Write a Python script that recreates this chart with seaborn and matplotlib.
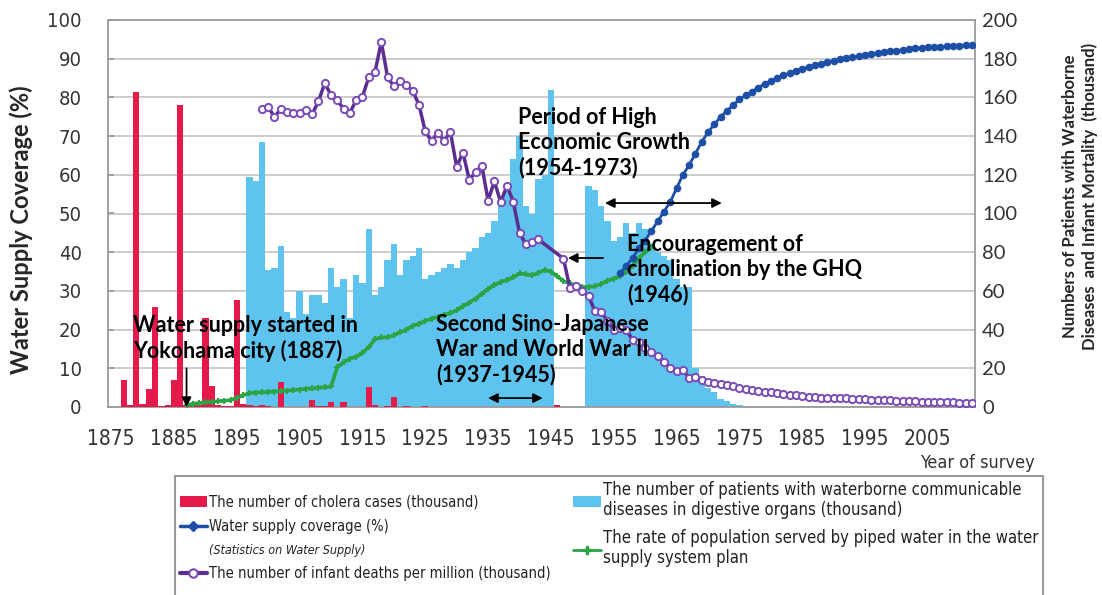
import matplotlib
matplotlib.use("Agg")
import matplotlib.pyplot as plt
import seaborn as sns
import numpy as np
import pandas as pd
from matplotlib import font_manager
from matplotlib.lines import Line2D
from matplotlib.patches import Patch

sns.set_theme(style="white")
avail = {f.name for f in font_manager.fontManager.ttflist}
NARROW = "Liberation Sans Narrow" if "Liberation Sans Narrow" in avail else "DejaVu Sans"
NSTRETCH = "normal" if NARROW == "Liberation Sans Narrow" else "condensed"
BOLD = "Lato" if "Lato" in avail else "DejaVu Sans"
plt.rcParams["font.family"] = [NARROW, "DejaVu Sans"]

# ---------------- data ----------------
cholera_years = [1877, 1878, 1879, 1880, 1881, 1882, 1883, 1884, 1885, 1886, 1887, 1888,
                 1889, 1890, 1891, 1892, 1893, 1894, 1895, 1896, 1897, 1898, 1899, 1900,
                 1901, 1902, 1903, 1907, 1908, 1909, 1910, 1912, 1916, 1917, 1919, 1920,
                 1922, 1925, 1946]
cholera_cases = [13.8, 0.9, 162.6, 1.6, 9.4, 51.6, 0.7, 0.9, 13.8, 155.9, 1.2, 0.8,
                 0.8, 46.0, 11.1, 0.9, 0.6, 0.5, 55.1, 1.5, 0.9, 0.7, 0.8, 0.4,
                 0.1, 12.9, 0.2, 3.6, 0.7, 0.3, 2.8, 2.6, 10.4, 0.9, 0.4, 5.0,
                 0.7, 0.6, 1.2]

waterborne_years = list(range(1897, 1946)) + list(range(1951, 1976))
waterborne_patients = [119, 117, 137, 71, 72, 83, 49, 46, 60, 48,
                       58, 58, 54, 72, 62, 66, 46, 68, 64, 92,
                       58, 62, 76, 84, 68, 76, 78, 82, 66, 68,
                       70, 72, 74, 72, 76, 80, 82, 88, 90, 96,
                       104, 114, 128, 140, 104, 100, 118, 120, 164,
                       114, 112, 104, 96, 86, 88, 95, 90, 95, 92,
                       84, 80, 78, 76, 66, 62, 62, 20, 16, 10,
                       8, 4, 3, 1.5, 0.8]

infant_years = list(range(1899, 1944)) + list(range(1947, 2013))
infant_deaths = [153.8, 155.0, 149.9, 154.0, 152.4, 151.9, 151.7, 153.6, 151.3, 158.0,
                 167.3, 161.2, 158.4, 154.2, 152.1, 158.5, 160.4, 170.3, 173.2, 188.6,
                 170.5, 165.7, 168.3, 166.4, 163.4, 156.2, 142.4, 137.5, 141.7, 137.6,
                 142.1, 124.1, 131.5, 117.5, 121.3, 124.8, 106.7, 116.7, 105.8, 114.4,
                 106.2, 90.0, 84.1, 85.5, 86.6,
                 76.7, 61.7, 62.5, 60.1, 57.5, 49.4, 48.9, 44.6, 39.8, 40.6,
                 40.0, 34.5, 33.7, 30.7, 28.6, 26.4, 23.2, 20.4, 18.5, 19.3,
                 14.9, 15.3, 14.2, 13.1, 12.4, 11.7, 11.3, 10.8, 10.0, 9.3,
                 8.9, 8.4, 7.9, 7.5, 7.1, 6.6, 6.2, 6.0, 5.5, 5.2,
                 5.0, 4.8, 4.6, 4.6, 4.4, 4.5, 4.3, 4.2, 4.3, 3.8,
                 3.7, 3.6, 3.4, 3.2, 3.1, 3.0, 3.0, 2.8, 2.8, 2.6,
                 2.6, 2.6, 2.4, 2.3, 2.3, 2.2]

coverage_years = list(range(1956, 2013))
coverage_pct = [34.5, 36.5, 38.5, 41.0, 43.0, 45.5, 48.0, 50.5, 53.0, 56.5,
                60.0, 62.5, 65.5, 68.5, 71.0, 73.0, 75.0, 76.5, 78.0, 79.5,
                80.5, 81.5, 82.5, 83.5, 84.3, 85.0, 85.7, 86.3, 86.9, 87.4,
                87.9, 88.3, 88.7, 89.1, 89.5, 89.8, 90.1, 90.4, 90.7, 91.0,
                91.3, 91.5, 91.7, 91.9, 92.1, 92.3, 92.5, 92.7, 92.8, 92.9,
                93.0, 93.1, 93.2, 93.3, 93.4, 93.5, 93.6]

plan_years = list(range(1887, 1962))
plan_pct = [0.5, 0.8, 1.0, 1.2, 1.3, 1.5, 1.6, 1.8, 2.3, 3.0,
            3.6, 3.7, 3.8, 3.9, 4.0, 4.1, 4.2, 4.4, 4.5, 4.7,
            4.8, 5.0, 5.1, 5.3, 10.3, 11.5, 12.5, 13.0, 14.0, 15.5,
            17.5, 18.0, 18.0, 18.5, 19.3, 20.0, 21.0, 21.5, 22.3, 22.8,
            23.3, 23.8, 24.3, 25.0, 26.0, 27.0, 28.0, 29.3, 30.5, 31.5,
            32.3, 32.8, 33.5, 34.5, 34.3, 34.0, 34.7, 35.4, 35.0, 33.8,
            32.5, 32.0, 31.3, 31.0, 31.0, 31.2, 31.8, 32.6, 33.2, 33.8,
            35.0, 36.5, 38.5, 40.0, 41.3]

x_ticks = list(range(1875, 2006, 10))
left_ticks = list(range(0, 101, 10))
right_ticks = list(range(0, 201, 20))

# ---------------- colours ----------------
RED = "#e6194b"
LBLUE = "#5ec3ee"
BLUE = "#1d4fa6"
GREEN = "#2ca444"
PURPLE = "#5a2d8e"
PURPLE_EDGE = "#7a4cb5"
GRID = "#c4c4c4"
FRAME = "#9a9a9a"
TICKC = "#333333"

fig = plt.figure(figsize=(11.02, 5.95), dpi=100)
fig.patch.set_facecolor("white")
ax = fig.add_axes([108 / 1102, 1 - 407 / 595, 867 / 1102, 387 / 595])

# bars (thousand units)
sns.barplot(x=waterborne_years, y=waterborne_patients, native_scale=True, width=1.0,
            color=LBLUE, saturation=1, errorbar=None, linewidth=0, ax=ax, zorder=2)
sns.barplot(x=cholera_years, y=cholera_cases, native_scale=True, width=1.0,
            color=RED, saturation=1, errorbar=None, linewidth=0, ax=ax, zorder=3)

ax2 = ax.twinx()   # percent axis (left)
ax3 = ax.twinx()   # infant mortality (thousand), drawn on top

sns.lineplot(x=plan_years, y=plan_pct, color=GREEN, lw=2.7, marker="P", markersize=5,
             markeredgewidth=0, ax=ax2, zorder=4)
sns.lineplot(x=coverage_years, y=coverage_pct, color=BLUE, lw=2, marker="o", markersize=5.5,
             markeredgewidth=0, ax=ax2, zorder=5)
sns.lineplot(x=infant_years, y=infant_deaths, color=PURPLE, lw=2.5, marker="o",
             markersize=5.2, markerfacecolor="white", markeredgecolor=PURPLE_EDGE,
             markeredgewidth=1.4, ax=ax3, zorder=6)

for a in (ax, ax2, ax3):
    a.set_xlim(1874.5, 2012.5)
ax.set_ylim(0, 200)
ax3.set_ylim(0, 200)
ax2.set_ylim(0, 100)

# thousand axis on the right
ax.yaxis.tick_right()
ax.set_yticks(right_ticks)
ax.grid(axis="y", color=GRID, lw=1.2)
ax.set_axisbelow(True)
ax.set_xticks(x_ticks)
ax.set_xticks(list(range(1880, 2011, 10)), minor=True)
ax.tick_params(axis="x", which="both", direction="in", length=4, color=FRAME,
               labelsize=15, labelcolor=TICKC, pad=16)
ax.tick_params(axis="y", which="both", length=0, labelsize=14.5, labelcolor=TICKC, pad=5,
               left=False, labelleft=False, right=False, labelright=True)
for lab in ax.get_xticklabels():
    lab.set_fontstretch(NSTRETCH)
for lab in ax.get_yticklabels():
    lab.set_fontfamily(BOLD)
ax.set_xlabel("")
ax.set_ylabel("")
for sp in ax.spines.values():
    sp.set_color(FRAME)
    sp.set_linewidth(1.3)

# percent axis on the left
ax2.yaxis.tick_left()
ax2.set_yticks(left_ticks)
ax2.tick_params(axis="y", direction="in", length=4, color=FRAME, labelsize=14.5,
                labelcolor=TICKC, pad=19, left=True, labelleft=True, right=False,
                labelright=False)
for lab in ax2.get_yticklabels():
    lab.set_fontstretch(NSTRETCH)
ax2.set_ylabel("")
for sp in ax2.spines.values():
    sp.set_visible(False)

ax3.set_yticks([])
ax3.set_ylabel("")
ax3.tick_params(axis="both", which="both", left=False, right=False, labelleft=False,
                labelright=False)
for sp in ax3.spines.values():
    sp.set_visible(False)

# axis titles
fig.text(21 / 1102, 1 - 230 / 595, "Water Supply Coverage (%)", rotation=90,
         ha="center", va="center", fontsize=17, fontweight="bold", family=BOLD)
fig.text(1080 / 1102, 1 - 196 / 595,
         "Numbers of Patients with Waterborne\nDiseases  and Infant Mortality  (thousand)",
         rotation=90, ha="center", va="center", multialignment="center",
         fontsize=12, fontweight="bold", family=BOLD, linespacing=1.3)
fig.text(1035 / 1102, 1 - 463 / 595, "Year of survey", ha="right", va="center",
         fontsize=13, color=TICKC, fontstretch=NSTRETCH)

# ---------------- annotations ----------------
afont = dict(fontsize=15.5, fontweight="bold", family=BOLD, color="black", linespacing=1.22)
ax3.text(1878.5, 35.4, "Water supply started in\nYokohama city (1887)", ha="left", va="center", zorder=10, **afont)
ax3.text(1926.7, 29.4, "Second Sino-Japanese\nWar and World War II\n(1937-1945)", ha="left", va="center", zorder=10, **afont)
ax3.text(1939.8, 136.4, "Period of High\nEconomic Growth\n(1954-1973)", ha="left", va="center", zorder=10, **afont)
ax3.text(1957.1, 70.8, "Encouragement of\nchrolination by the GHQ\n(1946)", ha="left", va="center", zorder=10, **afont)

arr = dict(color="black", lw=1.3, shrinkA=0, shrinkB=0, mutation_scale=14)
ax3.annotate("", xy=(1887, 0), xytext=(1887, 20), arrowprops=dict(arrowstyle="-|>", **arr), zorder=10)
ax3.annotate("", xy=(1935.0, 4.6), xytext=(1943.7, 4.6), arrowprops=dict(arrowstyle="<|-|>", **arr), zorder=10)
ax3.annotate("", xy=(1953.6, 105.4), xytext=(1972.2, 105.4), arrowprops=dict(arrowstyle="<|-|>", **arr), zorder=10)
ax3.annotate("", xy=(1947.7, 77.0), xytext=(1953.3, 77.0), arrowprops=dict(arrowstyle="-|>", **arr), zorder=10)

# ---------------- legend ----------------
blank = Line2D([], [], alpha=0)
handles = [
    Patch(facecolor=RED, edgecolor="none"),
    Line2D([0], [0], color=BLUE, lw=2.5, marker="D", markersize=5),
    blank,
    Line2D([0], [0], color=PURPLE, lw=3, marker="o", markersize=6, markerfacecolor="white",
           markeredgecolor=PURPLE_EDGE, markeredgewidth=1.5),
    Patch(facecolor=LBLUE, edgecolor="none"),
    Line2D([0], [0], color=GREEN, lw=2, marker="P", markersize=6),
    blank, blank,
]
labels = [
    "The number of cholera cases (thousand)",
    "Water supply coverage (%)",
    "(Statistics on Water Supply)",
    "The number of infant deaths per million (thousand)",
    "The number of patients with waterborne communicable\ndiseases in digestive organs (thousand)",
    "The rate of population served by piped water in the water\nsupply system plan",
    "", "",
]
leg = fig.legend(handles, labels, ncol=2, loc="upper left",
                 bbox_to_anchor=(175 / 1102, 1 - 476 / 595, 868 / 1102, 0.0), mode="expand",
                 borderaxespad=0, frameon=True, fancybox=False, edgecolor=FRAME, framealpha=1,
                 fontsize=11, handlelength=1.8, handletextpad=0.15, labelspacing=0.6,
                 borderpad=0.3, columnspacing=1.0)
leg.get_frame().set_linewidth(1.5)
for i, t in enumerate(leg.get_texts()):
    t.set_fontstretch(NSTRETCH)
    t.set_color("#222222")
    t.set_fontsize(10.5 if i < 4 else 12)
leg.get_texts()[2].set_fontstyle("italic")
leg.get_texts()[2].set_fontsize(9)

fig.savefig("out.png", dpi=100, facecolor="white")
